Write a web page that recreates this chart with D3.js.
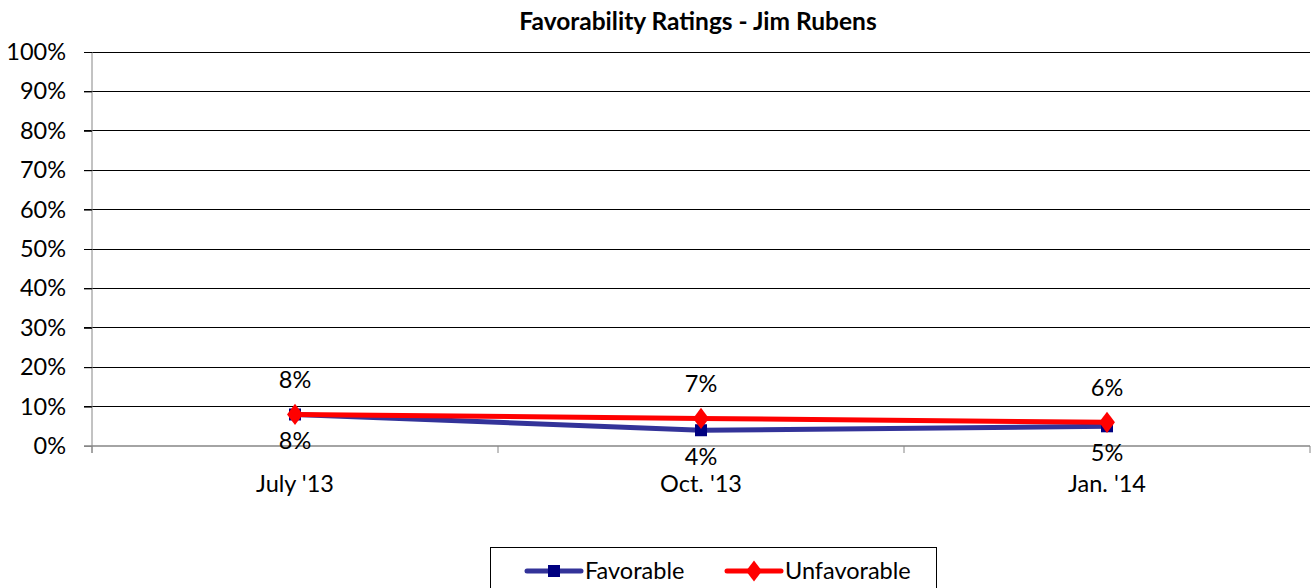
<!DOCTYPE html>
<html><head><meta charset="utf-8">
<script src="https://cdn.jsdelivr.net/npm/d3@7"></script>
<style>body{margin:0;background:#fff}svg{display:block}text{font-family:Lato,"Open Sans",sans-serif}</style>
</head><body>
<svg id="c" width="1312" height="588"></svg>
<script>
const title = "Favorability Ratings - Jim Rubens";
const categories = ["July '13", "Oct. '13", "Jan. '14"];
const favorable = [8, 4, 5];
const unfavorable = [8, 7, 6];
const yTicks = [0,10,20,30,40,50,60,70,80,90,100];

const FS = 23.5;
const svg = d3.select("#c");
const L = 92, R = 1310, T = 52, B = 446;
const x = d3.scaleBand().domain(categories).range([L, R]);
const y = d3.scaleLinear().domain([0,100]).range([B, T]);
const cx = c => x(c) + x.bandwidth()/2;

svg.append("text").attr("x", 698).attr("y", 30).attr("text-anchor","middle")
  .attr("font-weight","bold").attr("font-size",24.5).text(title);

// gridlines
svg.append("g").selectAll("line").data(yTicks.filter(d=>d>0)).join("line")
  .attr("x1", L-8).attr("x2", R).attr("y1", d=>y(d)).attr("y2", d=>y(d))
  .attr("stroke","#000").attr("stroke-width",1).attr("shape-rendering","crispEdges");

// y axis
const ya = svg.append("g").attr("transform",`translate(${L},0)`)
  .call(d3.axisLeft(y).tickValues(yTicks).tickFormat(d=>d+"%").tickSize(8).tickPadding(18));
ya.select(".domain").attr("stroke","#868686").attr("d",`M0,${T}V${B+7}`);
ya.selectAll(".tick line").attr("stroke", d=> d===0 ? "#868686" : "#000");
ya.selectAll("text").attr("font-size",FS).attr("fill","#000").attr("font-family","Lato");

// x axis
const xa = svg.append("g").attr("transform",`translate(0,${B})`);
xa.append("line").attr("x1",L-8).attr("x2",R).attr("y1",0).attr("y2",0).attr("stroke","#868686").attr("stroke-width",1.5);
const bounds = categories.map(c=>x(c)).concat([R]);
xa.selectAll("line.t").data(bounds).join("line").attr("class","t")
  .attr("x1",d=>d).attr("x2",d=>d).attr("y1",0).attr("y2",7).attr("stroke","#868686");
xa.selectAll("text").data(categories).join("text")
  .attr("x", d=>cx(d)).attr("y", 46).attr("text-anchor","middle").attr("font-size",FS).text(d=>d);

const line = d3.line().x((d,i)=>cx(categories[i])).y(d=>y(d));

svg.append("path").datum(favorable).attr("d",line).attr("fill","none")
  .attr("stroke","#333399").attr("stroke-width",5).attr("stroke-linejoin","round");
svg.append("path").datum(unfavorable).attr("d",line).attr("fill","none")
  .attr("stroke","#ff0000").attr("stroke-width",5).attr("stroke-linejoin","round");

svg.append("g").selectAll("rect").data(favorable).join("rect")
  .attr("x",(d,i)=>cx(categories[i])-6).attr("y",d=>y(d)-6).attr("width",12).attr("height",12).attr("fill","#000080");
const diamond = d3.symbol().type(d3.symbolDiamond).size(130);
svg.append("g").selectAll("path").data(unfavorable).join("path")
  .attr("d", diamond).attr("transform",(d,i)=>`translate(${cx(categories[i])},${y(d)}) scale(1.3,1)`).attr("fill","#ff0000");

svg.append("g").selectAll("text").data(unfavorable).join("text")
  .attr("x",(d,i)=>cx(categories[i])).attr("y",d=>y(d)-26).attr("text-anchor","middle").attr("font-size",FS).text(d=>d+"%");
svg.append("g").selectAll("text").data(favorable).join("text")
  .attr("x",(d,i)=>cx(categories[i])).attr("y",d=>y(d)+35).attr("text-anchor","middle").attr("font-size",FS).text(d=>d+"%");

// legend
const lg = svg.append("g");
lg.append("rect").attr("x",490.5).attr("y",547.5).attr("width",446).attr("height",50).attr("fill","#fff").attr("stroke","#000");
const items = [{name:"Favorable", color:"#333399", mcolor:"#000080", shape:"sq", x:527},
               {name:"Unfavorable", color:"#ff0000", mcolor:"#ff0000", shape:"di", x:727}];
items.forEach(it=>{
  lg.append("line").attr("x1",it.x).attr("x2",it.x+54).attr("y1",571).attr("y2",571).attr("stroke",it.color).attr("stroke-width",5).attr("stroke-linecap","round");
  if(it.shape==="sq") lg.append("rect").attr("x",it.x+21).attr("y",565).attr("width",12).attr("height",12).attr("fill",it.mcolor);
  else lg.append("path").attr("d",diamond).attr("transform",`translate(${it.x+27},571) scale(1.3,1)`).attr("fill",it.mcolor);
  lg.append("text").attr("x",it.x+58).attr("y",579).attr("font-size",FS).text(it.name);
});
</script>
</body></html>
